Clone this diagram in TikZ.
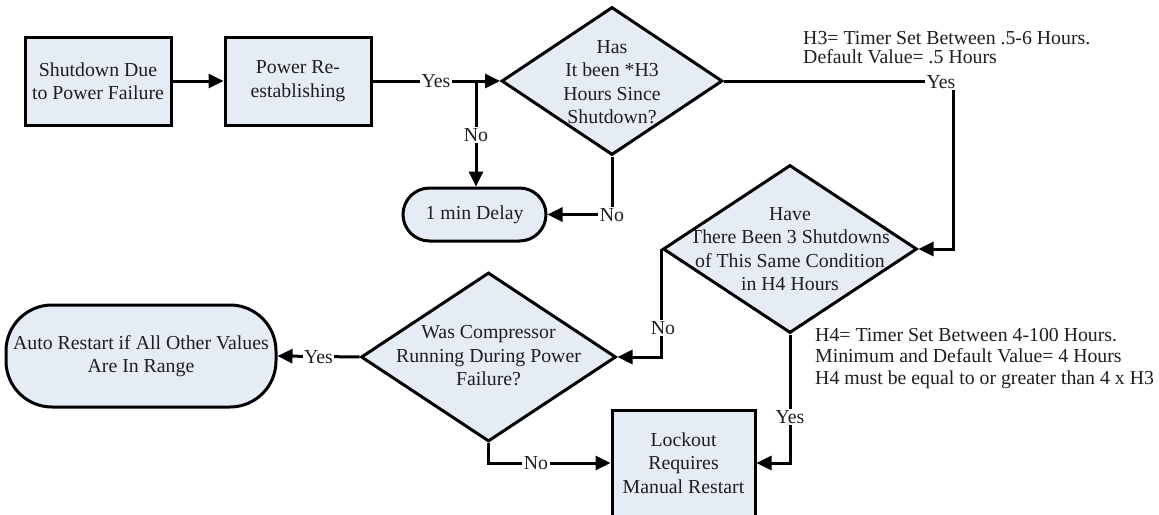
\documentclass[tikz,border=0pt]{standalone}
\usepackage{fontspec}
\setmainfont{Liberation Serif}
\usetikzlibrary{shapes.geometric,arrows.meta}
\definecolor{boxfill}{RGB}{230,236,246}
\definecolor{ink}{RGB}{30,30,30}
\begin{document}
\begin{tikzpicture}[x=1pt,y=-1pt,
  font=\fontsize{19.8}{23.5}\selectfont,
  txt/.style={text=ink, align=center, inner sep=0pt},
  proc/.style={txt, draw=black, fill=boxfill, line width=3pt, inner sep=0pt},
  decision/.style={draw=black, fill=boxfill, diamond, line width=3pt, inner sep=0pt},
  lbl/.style={text=ink, fill=white, inner sep=1.5pt},
  flow/.style={line width=3pt, draw=black},
  arr/.style={flow, -{Triangle[length=15pt,width=14pt]}},
  note/.style={text=ink, align=left, anchor=west, inner sep=0pt}
]
\fill[white] (0,0) rectangle (1159,514);
\useasboundingbox (0,0) rectangle (1159,514);

% process boxes
\node[proc, minimum width=146pt, minimum height=88pt] (b1) at (98,81) {Shutdown Due\\to Power Failure};
\node[proc, minimum width=146pt, minimum height=88pt] (b2) at (298,81) {Power Re-\\establishing};
\node[proc, minimum width=143pt, minimum height=106pt] (lock) at (683.5,463) {Lockout\\Requires\\Manual Restart};

% terminators
\node[proc, rounded corners=26.5pt, minimum width=143pt, minimum height=53pt] (delay) at (474.5,214.5) {1 min Delay};
\node[proc, rounded corners=46pt, minimum width=270pt, minimum height=102pt] (auto) at (141,356) {Auto Restart if All Other Values\\Are In Range};

% decisions
\node[decision, minimum width=221pt, minimum height=148pt] (d1) at (612,81) {};
\node[txt] (d1t) at (612,82) {Has\\It been *H3\\Hours Since\\Shutdown?};
\node[decision, minimum width=254pt, minimum height=168pt] (d2) at (790,249) {};
\node[txt] (d2t) at (790,249) {Have\\There Been 3 Shutdowns\\of This Same Condition\\in H4 Hours};
\node[decision, minimum width=255pt, minimum height=169pt] (d3) at (488.5,357) {};
\node[txt] (d3t) at (488.5,356) {Was Compressor\\Running During Power\\Failure?};

% connectors
\coordinate (split) at (476,81);
\coordinate (c1) at (953,81);
\draw[arr] (b1) -- (b2);
\draw[arr] (b2) -- (d1);
\draw[arr] (split) -- (split |- delay.north);
\draw[arr] (d1.south) |- (delay.east);
\draw[arr] (d1.east) -- (c1) |- (d2.east);
\draw[arr] (d2.west) -- (d2.west |- d3.east) -- (d3.east);
\draw[arr] (d2.south) |- (lock.east);
\draw[arr] (d3.west) -- (auto.east);
\draw[arr] (d3.south) |- (lock.west);

% branch labels
\node[lbl] (y1) at (436,81) {Yes};
\node[lbl] (n1) at (476,135) {No};
\node[lbl] (n2) at (612,215) {No};
\node[lbl] (y2) at (941,82) {Yes};
\node[lbl] (n3) at (663,328) {No};
\node[lbl] (y3) at (790,417) {Yes};
\node[lbl] (y4) at (318.5,357) {Yes};
\node[lbl] (n4) at (536,463) {No};

% timer notes
\node[note, font=\fontsize{19.8}{19}\selectfont] (h3) at (803,48) {H3= Timer Set Between .5-6 Hours.\\Default Value= .5 Hours};
\node[note, font=\fontsize{19.8}{21.5}\selectfont] (h4) at (815,358.5) {H4= Timer Set Between 4-100 Hours.\\Minimum and Default Value= 4 Hours\\H4 must be equal to or greater than 4 x H3};
\end{tikzpicture}
\end{document}
